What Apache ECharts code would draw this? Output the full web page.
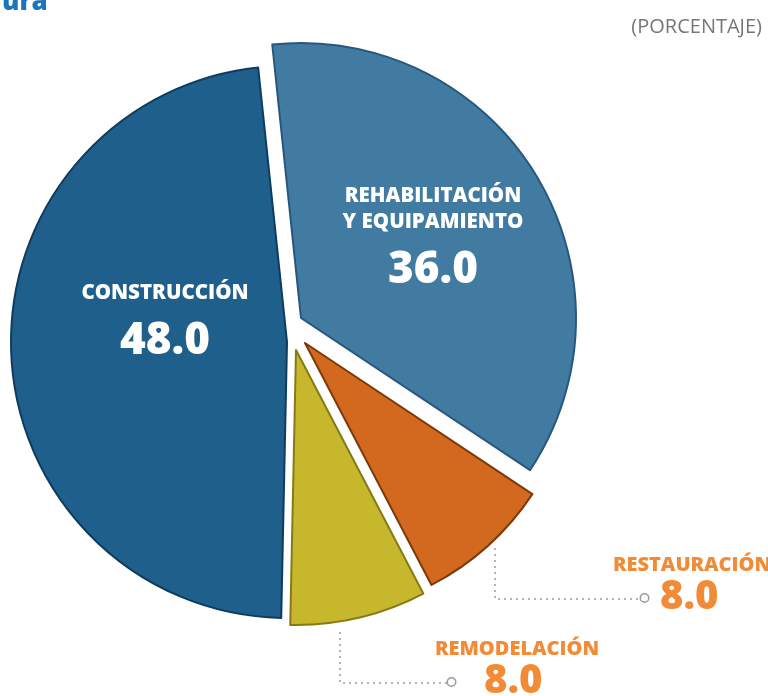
<!DOCTYPE html>
<html>
<head>
<meta charset="utf-8">
<script src="https://cdn.jsdelivr.net/npm/echarts@6/dist/echarts.min.js"></script>
<style>
  html, body { margin: 0; padding: 0; background: #fff; }
  #pie { width: 768px; height: 696px; }
</style>
</head>
<body>
<div id="pie"></div>
<script>
// datos (porcentaje)
var sectors = ["REHABILITACIÓN\nY EQUIPAMIENTO", "RESTAURACIÓN", "REMODELACIÓN", "CONSTRUCCIÓN"];
var shares = [36.0, 8.0, 8.0, 48.0];

var fills = ["#417ba2", "#d2691f", "#c6b72c", "#1f5f8c"];
var edges = ["#28577c", "#7a3a0c", "#857a16", "#0f3c5e"];

// each slice gets its own center, the original is "exploded" by hand
var centers = [[301, 318], [305, 343], [296, 350], [287, 342]];
var radii = [275, 273, 275, 276];

var labelPos = [
  { x: 433, y: 244, align: "center" },
  { x: 613, y: 585, align: "left", s: 28, g: 12, line: [[495, 548], [495, 599], [641, 599]] },
  { x: 435, y: 669, align: "left", s: 13, g: 29, line: [[340, 632], [340, 683], [448, 683]] },
  { x: 165, y: 327, align: "center" }
];

var dom = document.getElementById("pie");
var myChart = echarts.init(dom, null, { renderer: "canvas" });

var series = shares.map(function (v, k) {
  var small = !!labelPos[k].line;
  var label;
  if (small) {
    label = {
      position: "outside",
      formatter: function (p) {
        return "{n|" + p.name + "}\n{s|}{c|}{g|}{v|" + p.value.toFixed(1) + "}";
      },
      rich: {
        n: { color: "#f28b36", fontSize: 20, fontWeight: 800, fontFamily: "Open Sans", lineHeight: 26 },
        v: { color: "#f28b36", fontSize: 40, fontWeight: 800, fontFamily: "Open Sans", lineHeight: 40 },
        s: { width: labelPos[k].s },
        g: { width: labelPos[k].g },
        c: { width: 7, height: 7, borderRadius: 6, borderWidth: 1.5, borderColor: "#9a9a9a", backgroundColor: "#fff" }
      }
    };
  } else {
    label = {
      position: "inside",
      formatter: function (p) {
        return "{n|" + p.name.split("\n").join("}\n{n|") + "}\n{v|" + p.value.toFixed(1) + "}";
      },
      rich: {
        n: { color: "#fff", fontSize: 20.5, fontWeight: 800, fontFamily: "Open Sans", lineHeight: k === 0 ? 26 : 28 },
        v: { color: "#fff", fontSize: 44, fontWeight: 800, fontFamily: "Open Sans", lineHeight: k === 0 ? 70 : 68 }
      }
    };
  }
  return {
    type: "pie",
    startAngle: 96,
    clockwise: true,
    center: centers[k],
    radius: radii[k],
    avoidLabelOverlap: false,
    silent: true,
    animation: false,
    label: label,
    labelLine: {
      show: small,
      lineStyle: { color: "#9a9a9a", width: 1.5, type: [2, 4] }
    },
    labelLayout: function () {
      var o = labelPos[k];
      var r = { x: o.x, y: o.y, align: o.align, verticalAlign: "middle" };
      if (o.line) r.labelLinePoints = o.line;
      return r;
    },
    data: shares.map(function (s, i) {
      var mine = i === k;
      return {
        name: sectors[i],
        value: s,
        itemStyle: mine
          ? { color: fills[i], borderColor: edges[i], borderWidth: 2 }
          : { color: "rgba(0,0,0,0)", borderWidth: 0 },
        label: { show: mine },
        labelLine: { show: mine && small }
      };
    })
  };
});

var option = {
  title: [
    {
      text: "ura",
      left: -3,
      top: -15,
      textStyle: { color: "#1b75bc", fontSize: 26, fontWeight: 900, fontFamily: "Open Sans" }
    },
    {
      text: "(PORCENTAJE)",
      right: 1,
      top: 12,
      textStyle: { color: "#777777", fontSize: 20, fontWeight: "normal", fontFamily: "Open Sans" }
    }
  ],
  series: series
};

myChart.setOption(option);
window.addEventListener("resize", myChart.resize);
</script>
</body>
</html>
